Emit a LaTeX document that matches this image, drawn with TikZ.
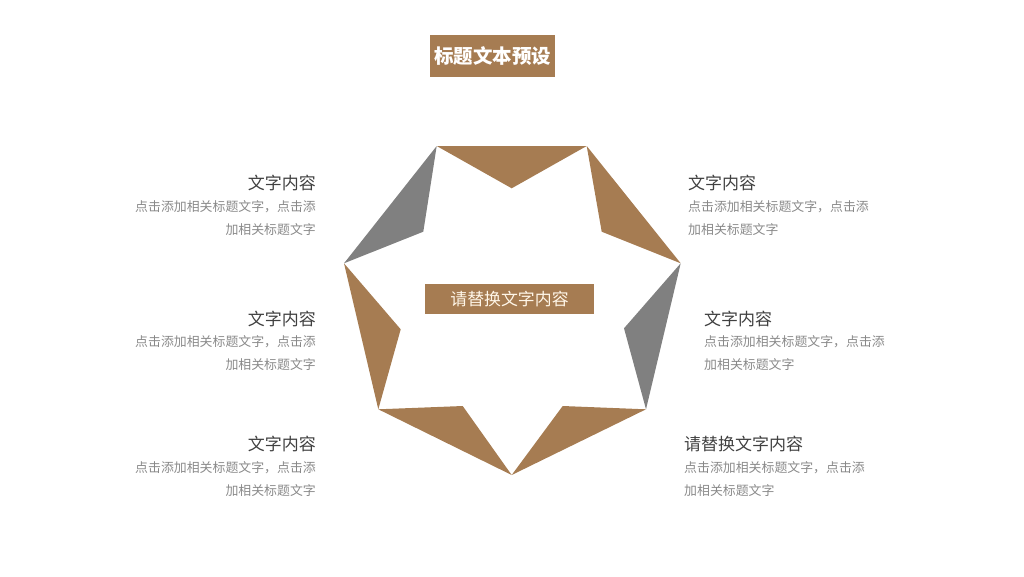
\documentclass[tikz,border=0pt]{standalone}
\usepackage{fontspec}
\setmainfont{Noto Sans CJK SC}
\newfontfamily\cjk{Noto Sans CJK SC}
\definecolor{brownc}{RGB}{166,124,82}
\definecolor{grayc}{RGB}{128,128,128}
\definecolor{headc}{RGB}{64,64,64}
\definecolor{descc}{RGB}{137,137,137}
\definecolor{creamc}{RGB}{255,246,232}
\tikzset{
  tri/.style={fill=brownc},
  gtri/.style={fill=grayc},
  head/.style={inner sep=0pt, text=headc, font=\cjk\fontsize{17}{19}\selectfont},
  desc/.style={inner sep=0pt, text=descc, font=\cjk\fontsize{12.9}{14}\selectfont},
}
\begin{document}
\begin{tikzpicture}[x=1pt,y=-1pt]
\useasboundingbox (0,0) rectangle (1024,576);
% outer vertices
\coordinate (TL) at (436.7,146);
\coordinate (TR) at (586.7,146);
\coordinate (R) at (680.7,263.3);
\coordinate (LR) at (646,409.3);
\coordinate (B) at (511.7,475);
\coordinate (LL) at (378.3,409.3);
\coordinate (L) at (344,263.3);
% inner vertices
\coordinate (i1) at (511.7,188.3);
\coordinate (i2) at (601.7,231.7);
\coordinate (i3) at (624,328.3);
\coordinate (i4) at (562.7,406);
\coordinate (i5) at (462.7,406);
\coordinate (i6) at (400.7,329.3);
\coordinate (i7) at (423.3,231.7);
\fill[tri] (TL) -- (TR) -- (i1) -- cycle;
\fill[tri] (TR) -- (R) -- (i2) -- cycle;
\fill[gtri] (R) -- (LR) -- (i3) -- cycle;
\fill[tri] (LR) -- (B) -- (i4) -- cycle;
\fill[tri] (B) -- (LL) -- (i5) -- cycle;
\fill[tri] (LL) -- (L) -- (i6) -- cycle;
\fill[gtri] (L) -- (TL) -- (i7) -- cycle;
% title
\node[fill=brownc, minimum width=125pt, minimum height=41.7pt, inner sep=0pt, text=white, font=\cjk\bfseries\fontsize{19.5}{21}\selectfont] (title) at (492.5,55.8) {标题文本预设};
% center
\node[fill=brownc, minimum width=169pt, minimum height=30pt, inner sep=0pt, text=creamc, font=\cjk\fontsize{16.9}{18}\selectfont] (center) at (509.5,299.3) {请替换文字内容};
% left labels
\node[head, anchor=east] (h1) at (316,183) {文字内容};
\node[desc, anchor=east] (d1a) at (316,206.5) {点击添加相关标题文字，点击添};
\node[desc, anchor=east] (d1b) at (316,229.5) {加相关标题文字};
\node[head, anchor=east] (h2) at (316,319) {文字内容};
\node[desc, anchor=east] (d2a) at (316,342) {点击添加相关标题文字，点击添};
\node[desc, anchor=east] (d2b) at (316,364.5) {加相关标题文字};
\node[head, anchor=east] (h3) at (316,444) {文字内容};
\node[desc, anchor=east] (d3a) at (316,467.5) {点击添加相关标题文字，点击添};
\node[desc, anchor=east] (d3b) at (316,490.5) {加相关标题文字};
% right labels
\node[head, anchor=west] (h4) at (688,183) {文字内容};
\node[desc, anchor=west] (d4a) at (688,206.5) {点击添加相关标题文字，点击添};
\node[desc, anchor=west] (d4b) at (688,229.5) {加相关标题文字};
\node[head, anchor=west] (h5) at (704,319) {文字内容};
\node[desc, anchor=west] (d5a) at (704,342) {点击添加相关标题文字，点击添};
\node[desc, anchor=west] (d5b) at (704,364.5) {加相关标题文字};
\node[head, anchor=west] (h6) at (684,444) {请替换文字内容};
\node[desc, anchor=west] (d6a) at (684,467.5) {点击添加相关标题文字，点击添};
\node[desc, anchor=west] (d6b) at (684,490.5) {加相关标题文字};
\end{tikzpicture}
\end{document}
